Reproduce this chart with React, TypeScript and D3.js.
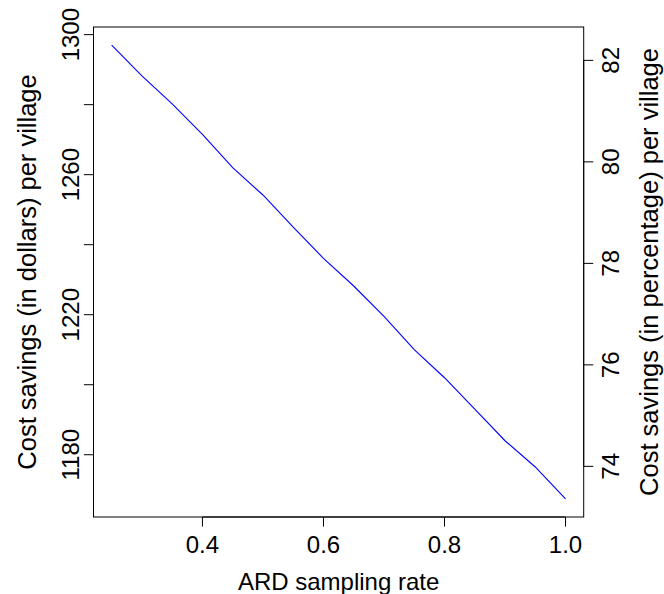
import React from "react";
import * as d3 from "d3";

// ---- data ----
const samplingRate = [0.25, 0.3, 0.35, 0.4, 0.45, 0.5, 0.55, 0.6, 0.65, 0.7, 0.75, 0.8, 0.85, 0.9, 0.95, 1.0];
const savingsDollars = [1297.0, 1288.2, 1280.2, 1271.5, 1262.0, 1254.2, 1245.0, 1236.1, 1228.2, 1219.5, 1210.0, 1202.0, 1193.0, 1184.0, 1176.5, 1167.4];
const savingsPctExtent = [73.36, 82.3];
const xTicks = [0.4, 0.6, 0.8, 1.0];
const yTicksLeft = [1180, 1200, 1220, 1240, 1260, 1280, 1300];
const yTickLabelsLeft = [1180, 1220, 1260, 1300];
const yTicksRight = [74, 76, 78, 80, 82];

const W = 664;
const H = 594;
const box = { left: 93.5, right: 583.7, top: 27, bottom: 517 };
const FONT = "'Liberation Sans', Arial, Helvetica, sans-serif";
const FS = 24;
const FS_TITLE_Y = 25.5;
const TICK = 9.6;

function pad(ext: [number, number]): [number, number] {
  const d = (ext[1] - ext[0]) * 0.04;
  return [ext[0] - d, ext[1] + d];
}

export default function App() {
  const x = d3
    .scaleLinear()
    .domain(pad(d3.extent(samplingRate) as [number, number]))
    .range([box.left, box.right]);
  const y = d3
    .scaleLinear()
    .domain(pad(d3.extent(savingsDollars) as [number, number]))
    .range([box.bottom, box.top]);
  const y2 = d3
    .scaleLinear()
    .domain(pad(savingsPctExtent as [number, number]))
    .range([box.bottom, box.top]);

  const line = d3
    .line<number>()
    .x((_, i) => x(samplingRate[i]))
    .y((d) => y(d));

  const cx = (box.left + box.right) / 2;
  const cy = (box.top + box.bottom) / 2;

  return (
    <svg
      width={W}
      height={H}
      style={{ position: "absolute", left: 0, top: 0, background: "#fff" }}
      fontFamily={FONT}
    >
      <rect x={0} y={0} width={W} height={H} fill="#fff" />
      {/* plot box */}
      <rect
        x={box.left}
        y={box.top}
        width={box.right - box.left}
        height={box.bottom - box.top}
        fill="none"
        stroke="#000"
        strokeWidth={1}
      />
      {/* bottom axis */}
      <line
        x1={x(xTicks[0])}
        x2={x(xTicks[xTicks.length - 1])}
        y1={box.bottom}
        y2={box.bottom}
        stroke="#000"
      />
      {xTicks.map((t) => (
        <g key={"x" + t}>
          <line x1={x(t)} x2={x(t)} y1={box.bottom} y2={box.bottom + TICK} stroke="#000" />
          <text x={x(t)} y={553} fontSize={FS} textAnchor="middle" fill="#000">
            {t.toFixed(1)}
          </text>
        </g>
      ))}
      <text x={cx} y={590} fontSize={FS} textAnchor="middle" fill="#000">
        ARD sampling rate
      </text>

      {/* left axis */}
      <line
        x1={box.left}
        x2={box.left}
        y1={y(yTicksLeft[0])}
        y2={y(yTicksLeft[yTicksLeft.length - 1])}
        stroke="#000"
      />
      {yTicksLeft.map((t) => (
        <line key={"yl" + t} x1={box.left - TICK} x2={box.left} y1={y(t)} y2={y(t)} stroke="#000" />
      ))}
      {yTickLabelsLeft.map((t) => (
        <text
          key={"ylt" + t}
          transform={`translate(${79},${y(t)}) rotate(-90)`}
          fontSize={FS}
          textAnchor="middle"
          fill="#000"
        >
          {t}
        </text>
      ))}
      <text
        transform={`translate(${36},${cy}) rotate(-90)`}
        fontSize={FS_TITLE_Y}
        textAnchor="middle"
        fill="#000"
      >
        Cost savings (in dollars) per village
      </text>

      {/* right axis */}
      <line
        x1={box.right}
        x2={box.right}
        y1={y2(yTicksRight[0])}
        y2={y2(yTicksRight[yTicksRight.length - 1])}
        stroke="#000"
      />
      {yTicksRight.map((t) => (
        <g key={"yr" + t}>
          <line x1={box.right} x2={box.right + TICK} y1={y2(t)} y2={y2(t)} stroke="#000" />
          <text
            transform={`translate(${619},${y2(t)}) rotate(-90)`}
            fontSize={FS}
            textAnchor="middle"
            fill="#000"
          >
            {t}
          </text>
        </g>
      ))}
      <text
        transform={`translate(${658},${cy}) rotate(-90)`}
        fontSize={FS_TITLE_Y}
        textAnchor="middle"
        fill="#000"
      >
        Cost savings (in percentage) per village
      </text>

      {/* data line */}
      <path d={line(savingsDollars) || ""} fill="none" stroke="#0000ff" strokeWidth={1.1} />
    </svg>
  );
}
